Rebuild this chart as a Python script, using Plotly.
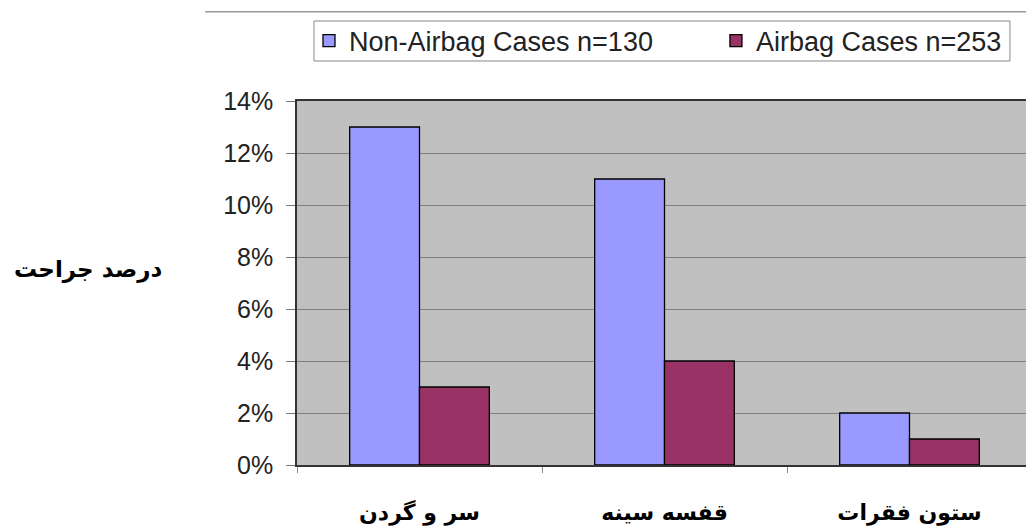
import plotly.graph_objects as go

categories = ["سر و گردن", "قفسه سینه", "ستون فقرات"]
non_airbag = [0.13, 0.11, 0.02]
airbag = [0.03, 0.04, 0.01]
series_names = ["Non-Airbag Cases n=130", "Airbag Cases n=253"]
y_title = "درصد جراحت"

fig = go.Figure()
fig.add_trace(go.Bar(x=categories, y=non_airbag, name=series_names[0], legend="legend",
                     marker=dict(color="#9999ff", line=dict(color="#000000", width=1.3))))
fig.add_trace(go.Bar(x=categories, y=airbag, name=series_names[1], legend="legend2",
                     marker=dict(color="#993366", line=dict(color="#000000", width=1.3))))

legend_common = dict(orientation="h", xanchor="left", yanchor="middle", y=1.1648,
                     borderwidth=0, bgcolor="rgba(0,0,0,0)",
                     font=dict(size=27, color="#222222"), itemwidth=30)

# page body has an 8px margin, so the figure is offset by 8px
fig.update_layout(
    width=1026, height=521,
    margin=dict(l=289, r=2, t=93, b=64, autoexpand=False),
    paper_bgcolor="white",
    plot_bgcolor="#c0c0c0",
    barmode="group",
    bargap=0.43,
    bargroupgap=0,
    font=dict(family="Liberation Sans, Arial", color="#111111"),
    showlegend=True,
    legend=dict(x=0.0163, **legend_common),
    legend2=dict(x=0.570, **legend_common),
)
fig.update_xaxes(
    showline=True, linecolor="#333333", linewidth=1.5, mirror=True,
    ticks="outside", tickson="boundaries", ticklen=6, tickcolor="#888888",
    tickvals=categories,
    ticktext=["<b>" + c + "</b>" for c in categories],
    tickfont=dict(size=22, family="DejaVu Sans", color="#000000"),
    ticklabelstandoff=27,
    showgrid=False, automargin=False,
)
fig.update_yaxes(
    range=[0, 0.14], dtick=0.02, tickformat=".0%",
    showline=True, linecolor="#333333", linewidth=1.5, mirror=True,
    ticks="outside", ticklen=9, tickcolor="#777777",
    tickfont=dict(size=25, color="#222222"),
    ticklabelstandoff=8,
    showgrid=True, gridcolor="#808080", gridwidth=1.2,
    zeroline=False, automargin=False,
)
fig.add_annotation(text="<b>" + y_title + "</b>", xref="paper", yref="paper",
                   x=-0.284, y=0.536, xanchor="center", yanchor="middle",
                   showarrow=False,
                   font=dict(size=23, family="DejaVu Sans", color="#000000"))
# rule across the top of the chart
fig.add_shape(type="line", xref="paper", yref="paper",
              x0=-0.125, x1=1.02, y0=1.245, y1=1.245,
              line=dict(color="#999999", width=1.5))
# legend frame enclosing both legend entries
fig.add_shape(type="rect", xref="paper", yref="paper", layer="below",
              x0=0.0231, x1=0.970, y0=1.1099, y1=1.2198,
              line=dict(color="#888888", width=1), fillcolor="white")
fig.write_html("out.html")
